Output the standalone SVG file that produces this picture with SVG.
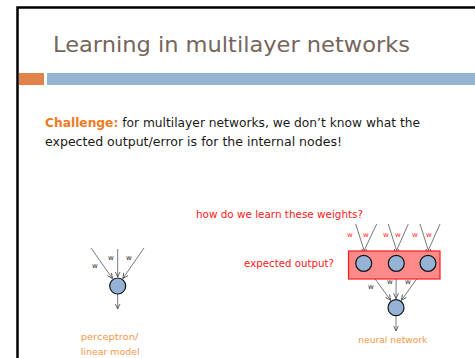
<svg xmlns="http://www.w3.org/2000/svg" width="475" height="358" viewBox="0 0 475 358">
<style>
.title{font-family:"DejaVu Sans","Liberation Sans",sans-serif;font-size:22px;fill:#76655d}
.body{font-family:"DejaVu Sans","Liberation Sans",sans-serif;font-size:12px;fill:#1a1a1a}
.ch{font-weight:bold;fill:#f07a22}
.red{font-family:"DejaVu Sans","Liberation Sans",sans-serif;font-size:10px;fill:#ff2020}
.w{font-family:"DejaVu Sans","Liberation Sans",sans-serif;font-size:7px;fill:#222}
.wr{font-family:"DejaVu Sans","Liberation Sans",sans-serif;font-size:7px;fill:#ff2020}
.org{font-family:"DejaVu Sans","Liberation Sans",sans-serif;font-size:9px;fill:#f79646}
.node{fill:#95b3d7;stroke:#111;stroke-width:1.2}
.edge{stroke:#555;stroke-width:0.8;fill:none;marker-end:url(#ah)}
</style>
<defs>
<marker id="ah" viewBox="0 0 6 6" refX="5.5" refY="3" markerWidth="6" markerHeight="6" markerUnits="userSpaceOnUse" orient="auto">
<path d="M0,0.5 L5.5,3 L0,5.5" fill="none" stroke="#444" stroke-width="0.8"/>
</marker>
</defs>
<rect x="0" y="0" width="475" height="358" fill="#fff"/>
<rect x="17.5" y="7.5" width="470" height="360" fill="none" stroke="#000" stroke-width="2.5"/>
<text class="title" x="53" y="52" textLength="357" lengthAdjust="spacingAndGlyphs">Learning in multilayer networks</text>
<rect x="19" y="73" width="25" height="12" fill="#e0834a"/>
<rect x="47" y="73" width="430" height="12" fill="#93b5d2"/>
<text class="body" x="45" y="127" textLength="375" lengthAdjust="spacingAndGlyphs"><tspan class="ch">Challenge:</tspan> for multilayer networks, we don’t know what the</text>
<text class="body" x="45" y="146" textLength="297" lengthAdjust="spacingAndGlyphs">expected output/error is for the internal nodes!</text>

<g id="connectors">
<line class="edge" x1="91" y1="248" x2="112.5" y2="278.6"/>
<line class="edge" x1="117.7" y1="249" x2="117.7" y2="277"/>
<line class="edge" x1="144" y1="248" x2="122.8" y2="278.6"/>
<line class="edge" x1="117.7" y1="294" x2="117.7" y2="309"/>
<line class="edge" x1="355.7" y1="224" x2="365.5" y2="255"/>
<line class="edge" x1="376.7" y1="224" x2="362" y2="255"/>
<line class="edge" x1="388.3" y1="224" x2="398" y2="255"/>
<line class="edge" x1="408.3" y1="224" x2="394.5" y2="255"/>
<line class="edge" x1="420" y1="224" x2="429.8" y2="255"/>
<line class="edge" x1="440" y1="224" x2="426.2" y2="255"/>
<line class="edge" x1="368.4" y1="269.8" x2="390.7" y2="300.4"/>
<line class="edge" x1="396.2" y1="271.3" x2="396" y2="298.7"/>
<line class="edge" x1="423.3" y1="269.8" x2="401.3" y2="300.4"/>
<line class="edge" x1="396" y1="315.7" x2="396" y2="331"/>
</g>

<g id="perceptron">
<circle class="node" cx="117.7" cy="286" r="8"/>
<text class="w" x="92" y="268">w</text>
<text class="w" x="108" y="260">w</text>
<text class="w" x="126" y="260">w</text>
<text class="org" x="80.7" y="340" textLength="57.6" lengthAdjust="spacingAndGlyphs">perceptron/</text>
<text class="org" x="80.7" y="355" textLength="59" lengthAdjust="spacingAndGlyphs">linear model</text>
</g>

<g id="hidden-layer">
<rect x="348.5" y="251" width="91.5" height="28" fill="#ff8a8a" stroke="#ff1a1a" stroke-width="1.2"/>
<text class="red" x="244" y="267" textLength="90" lengthAdjust="spacingAndGlyphs">expected output?</text>
<text class="red" x="196" y="218" textLength="167" lengthAdjust="spacingAndGlyphs">how do we learn these weights?</text>
<text class="wr" x="347" y="237">w</text>
<text class="wr" x="363" y="237">w</text>
<text class="wr" x="383" y="237">w</text>
<text class="wr" x="395" y="237">w</text>
<text class="wr" x="412" y="237">w</text>
<text class="wr" x="426" y="237">w</text>
</g>
<g id="h1"><circle class="node" cx="363.7" cy="263.3" r="8"/></g>
<g id="h2"><circle class="node" cx="396.3" cy="263.3" r="8"/></g>
<g id="h3"><circle class="node" cx="428" cy="263.3" r="8"/></g>
<g id="output">
<circle class="node" cx="396" cy="307.7" r="8"/>
<text class="w" x="368" y="289">w</text>
<text class="w" x="387" y="284">w</text>
<text class="w" x="405" y="284">w</text>
<text class="org" x="358.3" y="343" textLength="69" lengthAdjust="spacingAndGlyphs">neural network</text>
</g>
</svg>
